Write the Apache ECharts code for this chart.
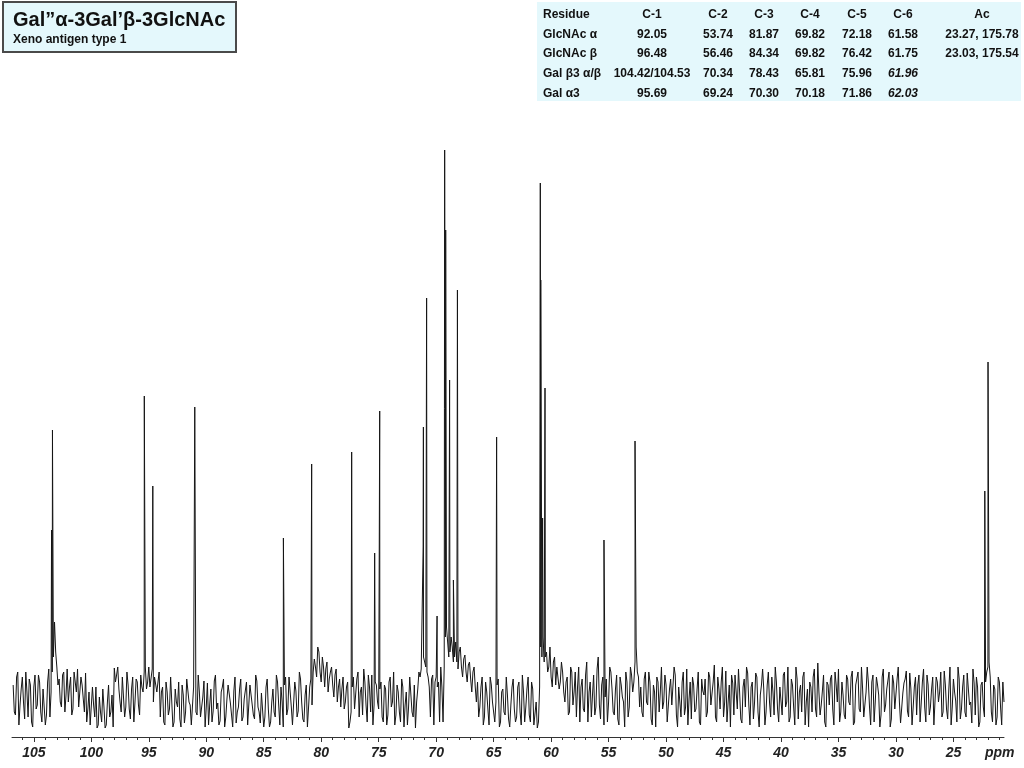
<!DOCTYPE html>
<html><head><meta charset="utf-8">
<script src="https://cdn.jsdelivr.net/npm/echarts@6/dist/echarts.min.js"></script>
<style>html,body{margin:0;padding:0;background:#fff}#c{width:1024px;height:768px}</style>
</head><body><div id="c"></div>
<script>
// ---- text content ----
const titleMain = 'Gal\u201D\u03B1-3Gal\u2019\u03B2-3GlcNAc';
const titleSub = 'Xeno antigen type 1';
const tableHeader = ['Residue', 'C-1', 'C-2', 'C-3', 'C-4', 'C-5', 'C-6', 'Ac'];
const rowGlcNAcAlpha = ['GlcNAc \u03B1', '92.05', '53.74', '81.87', '69.82', '72.18', '61.58', '23.27, 175.78'];
const rowGlcNAcBeta = ['GlcNAc \u03B2', '96.48', '56.46', '84.34', '69.82', '76.42', '61.75', '23.03, 175.54'];
const rowGalBeta3 = ['Gal \u03B23 \u03B1/\u03B2', '104.42/104.53', '70.34', '78.43', '65.81', '75.96', '61.96', ''];
const rowGalAlpha3 = ['Gal \u03B13', '95.69', '69.24', '70.30', '70.18', '71.86', '62.03', ''];
const italicCells = ['3-6', '4-6'];

// ---- axis ----
const axisTickLabels = [25, 30, 35, 40, 45, 50, 55, 60, 65, 70, 75, 80, 85, 90, 95, 100, 105];
const axisUnit = 'ppm';
const ppmMin = 20.6, ppmMax = 106.9;

// ---- spectrum baseline samples (intensity) ----
// noise: from 106.8 ppm every 0.2 ppm; noiseMid: from 106.7 ppm every 0.2 ppm
const ppmStart = 106.8, ppmStep = 0.2, ppmStartMid = 106.7;
const noise = [
 12,-18,25,-8,20,-22,5,18,-25,10,-12,22,-15,8,-28,15,-20,
 25,75,30,
 18,-10,25,2,-5,20,-12,15,28,-8,12,-15,
 -25,5,-30,-8,10,-28,-15,8,-31,-5,-20,2,
 29,22,8,-15,18,-10,12,-22,20,-5,15,-18,10,
 25,8,30,12,-5,22,15,
 -20,10,-28,5,-12,18,-25,-5,15,-30,2,-15,20,-8,-26,12,-18,5,-22,16,-10,-28,8,-14,22,-6,-24,10,-30,-2,14,-18,6,-26,-10,18,-20,0,-28,12,-8,-22,16,-15,4,-30,10,-12,-25,
 8,-20,15,-28,-5,12,-18,20,-10,-26,6,-14,18,-22,2,-30,10,-8,
 38,20,45,15,30,28,5,25,12,22,-5,18,8,-12,10,-31,
 -15,
 20,-10,25,5,-18,15,-25,10,22,-8,12,
 -12,15,-25,8,-18,20,-5,-28,12,-15,18,-30,5,-10,22,-20,-31,8,
 20,30,35,25,10,18,-28,20,15,30,
 -25,
 60,55,45,50,40,35,45,30,38,25,32,18,25,10,
 15,-10,20,-20,5,-28,12,-15,-5,18,-25,8,-18,2,-30,10,-12,
 -20,15,-28,5,-10,20,-25,8,-30,-31,
 10,40,35,
 45,30,20,35,12,28,15,25,
 -5,20,-15,25,5,-20,30,10,-12,22,-25,15,2,-18,28,-8,12,-28,18,-5,25,-15,8,-22,20,0,-30,15,-10,22,15,50,20,
 10,-20,25,-8,15,-28,5,20,-15,30,-5,12,-25,18,-10,22,-30,8,15,-18,28,-2,-22,12,-12,25,-28,6,18,-15,
 20,-10,32,-25,8,15,-20,26,-5,-30,14,22,-12,5,-26,18,30,-8,10,-22,24,-15,2,28,-28,12,-5,20,-18,15,
 -25,8,22,-10,30,-20,12,-28,18,5,-15,25,-5,-30,10,20,-12,34,-18,6,-25,15,-8,22,-28,12,28,-15,2,-22,
 18,-8,26,-25,10,-12,30,-20,5,15,-28,22,-5,12,-30,20,-15,8,25,-22,14,-10,30,-26,4,18,-14,24,-28,10,
 -18,22,-6,28,-25,12,-10,20,-30,15,5,-20,26,-12,8,-28,18,-4,30,-22,10,-15,24,-8,-26,14,20,-30,12,
 -10,15,30,20,-25,8,-20,15,-28,-5
];
const noiseMid = [
 -15,20,-28,8,-5,25,-20,12,-30,22,-8,15,-25,10,-18,28,5,
 40,45,12,
 -5,22,-15,28,10,-18,25,5,-10,20,-2,24,
 -12,-28,10,-20,-31,0,-25,-10,-28,12,-15,-30,
 15,30,-5,20,-20,25,-12,8,-25,18,-8,22,5,
 30,15,10,28,20,5,25,
 5,-25,15,-18,20,-30,8,-10,-22,12,-26,18,-5,-28,10,-15,22,-20,0,-30,14,-8,-25,16,-12,-28,5,18,-20,12,-6,-30,20,-15,8,-24,-2,15,-28,10,-18,22,-10,-26,6,-20,18,-30,-5,
 -15,22,-8,10,-30,20,-12,5,-28,15,-20,25,-5,-25,12,-10,18,25,
 30,50,25,40,10,35,18,30,0,28,10,-10,20,-5,15,-25,
 10,
 -12,18,-20,10,28,-8,22,-15,-28,15,-5,
 8,-20,12,-28,15,-10,25,-18,5,-25,10,-8,-28,20,-15,12,-5,25,
 28,40,30,20,-20,22,15,10,-25,10,
 30,
 70,40,60,35,55,28,50,20,42,15,35,5,30,-5,
 -20,10,-28,15,-12,20,-5,-25,12,-30,5,-15,20,-22,-8,18,-25,
 10,-15,22,-25,8,-18,15,-28,-5,-25,
 50,60,40,
 25,50,10,40,30,8,35,5,
 15,-18,30,-8,25,10,-25,18,-15,35,5,-20,22,-10,40,-22,20,0,-25,30,8,-18,22,-28,12,-5,25,-20,30,5,35,25,-10,
 -15,18,-5,25,-22,12,-30,15,5,-12,22,-25,8,-8,30,-18,10,-20,25,-10,-28,15,20,-15,8,-25,18,2,-20,25,
 -8,15,-20,20,-12,30,-5,-25,12,22,-18,5,28,-22,10,-10,24,-28,15,-5,20,-30,12,8,-15,25,-20,5,30,-12,
 10,-18,25,-5,-25,18,-10,30,-22,12,20,-28,8,15,-15,28,-20,5,-8,22,-30,12,18,-12,25,-5,-25,15,-18,22,
 -5,20,-28,12,25,-15,8,-22,30,-10,15,-25,20,2,-18,28,-8,10,-30,22,-12,18,-5,-25,14,26,-20,8,-10,20,
 12,-25,15,-10,22,-18,8,-28,20,-5,25,-15,12,-22,30,-10,5,-25,18,-12,22,-20,8,-5,28,-18,10,-25,15,
 -20,25,35,-15,12,-28,20,-10,15
];
// ---- resonance lines ----
const peakPpm    = [103.46,103.38,95.39,94.65,91.00,83.29,80.83,77.35,75.35,74.95,74.91,71.13,71.11,70.83,69.92,69.26,69.17,68.83,68.50,68.15,64.74,60.94,60.90,60.74,60.53,55.40,52.70,22.27,21.99];
const peakHeight = [167,   267,   301,  211,  290,  159,  233,  245,  144,  150,  286,  150,  270,  399,  81,   547,  467,  317,  117,  407,  260,  514,  417,  179,  309,  157,  256,  206,  335];

// ---- build series data ----
const spectrum = noise.map((v, i) => [+(ppmStart - i * ppmStep).toFixed(2), v]);
noiseMid.forEach((v, i) => spectrum.push([+(ppmStartMid - i * ppmStep).toFixed(2), v]));
peakPpm.forEach((p, j) => spectrum.push([p, peakHeight[j]]));
spectrum.sort((a, b) => b[0] - a[0]);

const minorTicks = [];
for (let v = Math.ceil(ppmMin); v <= Math.floor(ppmMax); v++) minorTicks.push(v);

// ---- layout ----
const FONT = '"Liberation Sans", Arial, Helvetica, sans-serif';
const colX = [543, 652, 718, 764, 810, 857, 903, 982];
const rowY = [15, 35, 54, 74, 94];
const tableRows = [tableHeader, rowGlcNAcAlpha, rowGlcNAcBeta, rowGalBeta3, rowGalAlpha3];

const graphics = [
  { type: 'rect', shape: { x: 3, y: 2, width: 233, height: 50 },
    style: { fill: '#e4f8fc', stroke: '#4a4a4a', lineWidth: 2 }, z: 10 },
  { type: 'text', x: 13, y: 20, z: 11,
    style: { text: titleMain, font: 'bold 20px ' + FONT, fill: '#111',
             textAlign: 'left', textVerticalAlign: 'middle', align: 'left', verticalAlign: 'middle' } },
  { type: 'text', x: 13, y: 40, z: 11,
    style: { text: titleSub, font: 'bold 12px ' + FONT, fill: '#111',
             textAlign: 'left', textVerticalAlign: 'middle', align: 'left', verticalAlign: 'middle' } },
  { type: 'rect', shape: { x: 537, y: 2, width: 484, height: 99 },
    style: { fill: '#e4f8fc', stroke: null }, z: 10 },
  { type: 'text', x: 985, y: 753, z: 11,
    style: { text: axisUnit, font: 'italic bold 14px ' + FONT, fill: '#222',
             textAlign: 'left', textVerticalAlign: 'middle', align: 'left', verticalAlign: 'middle' } }
];
tableRows.forEach((row, r) => {
  row.forEach((cell, c) => {
    if (!cell) return;
    const ital = italicCells.indexOf(r + '-' + c) >= 0;
    const al = c === 0 ? 'left' : 'center';
    graphics.push({ type: 'text', x: colX[c], y: rowY[r], z: 11,
      style: { text: cell, font: (ital ? 'italic ' : '') + 'bold 12px ' + FONT, fill: '#111',
               textAlign: al, textVerticalAlign: 'middle', align: al, verticalAlign: 'middle' } });
  });
});

const chart = echarts.init(document.getElementById('c'), null, { renderer: 'canvas' });
chart.setOption({
  animation: false,
  backgroundColor: '#ffffff',
  grid: { left: 12, right: 20, top: 150, bottom: 31, outerBoundsMode: 'none' },
  xAxis: [
    { type: 'value', inverse: true, min: ppmMin, max: ppmMax, position: 'bottom',
      axisLine: { show: true, onZero: false, lineStyle: { color: '#333', width: 1 } },
      axisTick: { show: true, customValues: axisTickLabels, length: 5, lineStyle: { color: '#333' } },
      axisLabel: { customValues: axisTickLabels, fontSize: 14, fontWeight: 'bold', fontStyle: 'italic',
                   fontFamily: FONT, color: '#222', margin: 9 },
      splitLine: { show: false } },
    { type: 'value', inverse: true, min: ppmMin, max: ppmMax, position: 'bottom', offset: 0,
      axisLine: { show: false, onZero: false },
      axisTick: { show: true, customValues: minorTicks, length: 3, lineStyle: { color: '#333' } },
      axisLabel: { show: false },
      splitLine: { show: false } }
  ],
  yAxis: { type: 'value', min: -40, max: 547, show: false, splitLine: { show: false } },
  series: [{
    type: 'line', data: spectrum, xAxisIndex: 0, showSymbol: false, symbol: 'none',
    sampling: null, silent: true,
    lineStyle: { color: '#151515', width: 1 }
  }],
  graphic: graphics
});
</script>
</body></html>
